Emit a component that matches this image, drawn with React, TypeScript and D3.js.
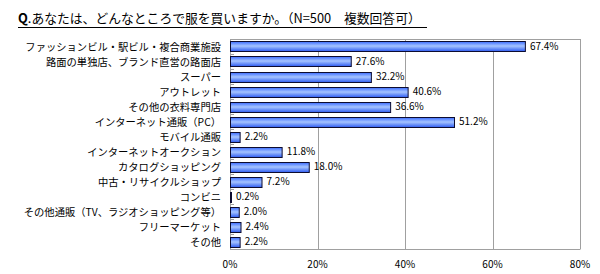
import React from "react";
import * as d3 from "d3";

const categories = [
  "ファッションビル・駅ビル・複合商業施設",
  "路面の単独店、ブランド直営の路面店",
  "スーパー",
  "アウトレット",
  "その他の衣料専門店",
  "インターネット通販（PC）",
  "モバイル通販",
  "インターネットオークション",
  "カタログショッピング",
  "中古・リサイクルショップ",
  "コンビニ",
  "その他通販（TV、ラジオショッピング等）",
  "フリーマーケット",
  "その他",
];
const values = [67.4, 27.6, 32.2, 40.6, 36.6, 51.2, 2.2, 11.8, 18.0, 7.2, 0.2, 2.0, 2.4, 2.2];
const ticks = [0, 20, 40, 60, 80];
const title = "Q.あなたは、どんなところで服を買いますか。（N=500　複数回答可）";

const W = 600;
const H = 274;
const left = 230;
const right = 580;
const top = 39;
const bottom = 249;
const font = "'Noto Sans CJK JP', 'Noto Sans', sans-serif";

export default function App() {
  const x = d3.scaleLinear().domain([0, 80]).range([left, right]);
  const y = d3
    .scaleBand<string>()
    .domain(categories)
    .range([top, bottom])
    .paddingInner(0.33)
    .paddingOuter(0.165);
  const step = y.step();
  const bh = 10;

  return (
    <svg
      width={W}
      height={H}
      style={{ position: "absolute", left: 0, top: 0, background: "#fff" }}
    >
      <defs>
        <linearGradient id="barFill" x1="0" y1="0" x2="0" y2="1">
          <stop offset="0" stopColor="#3b6cff" />
          <stop offset="0.45" stopColor="#a6c4ff" />
          <stop offset="1" stopColor="#2c5af2" />
        </linearGradient>
      </defs>
      <rect width={W} height={H} fill="#fff" />

      {/* title */}
      <text x={18} y={23} fontFamily={font} fontSize={12.8} fill="#000">
        <tspan fontWeight="bold">Q</tspan>
        {title.slice(1)}
      </text>
      <line x1={18} x2={427} y1={27.5} y2={27.5} stroke="#000" strokeWidth={1} />

      {/* gridlines and frame */}
      {ticks.slice(1).map((t) => (
        <line
          key={t}
          x1={Math.round(x(t)) + 0.5}
          x2={Math.round(x(t)) + 0.5}
          y1={top}
          y2={bottom}
          stroke="#a0a0a0"
        />
      ))}
      <line x1={left} x2={right + 0.5} y1={top + 0.5} y2={top + 0.5} stroke="#a0a0a0" />
      <line x1={left + 0.5} x2={left + 0.5} y1={top} y2={bottom} stroke="#a0a0a0" />
      <line x1={left} x2={right + 0.5} y1={bottom + 0.5} y2={bottom + 0.5} stroke="#a0a0a0" />
      {d3.range(categories.length + 1).map((i) => {
        const yy = Math.round(top + i * step) + 0.5;
        return (
          <line key={i} x1={left} x2={left + 4} y1={yy} y2={yy} stroke="#a0a0a0" />
        );
      })}

      {/* bars */}
      {categories.map((c, i) => {
        const cy = (y(c) as number) + y.bandwidth() / 2;
        const y0 = Math.round(cy - bh / 2) + 0.5;
        const w = x(values[i]) - x(0);
        return (
          <g key={c}>
            <rect
              x={left + 0.5}
              y={y0}
              width={Math.max(w, 1)}
              height={bh}
              fill="url(#barFill)"
              stroke="#0c0c30"
              strokeWidth={1}
            />
            <text
              x={x(values[i]) + 5}
              y={cy + 3.8}
              fontFamily={font}
              fontSize={10}
              fill="#000"
            >
              {values[i].toFixed(1)}%
            </text>
            <text
              x={221}
              y={cy + 4}
              textAnchor="end"
              fontFamily={font}
              fontSize={10.3}
              fill="#000"
            >
              {c}
            </text>
          </g>
        );
      })}

      {/* x tick labels */}
      {ticks.map((t) => (
        <text
          key={t}
          x={x(t)}
          y={268}
          textAnchor="middle"
          fontFamily={font}
          fontSize={10}
          fill="#000"
        >
          {t}%
        </text>
      ))}
    </svg>
  );
}
